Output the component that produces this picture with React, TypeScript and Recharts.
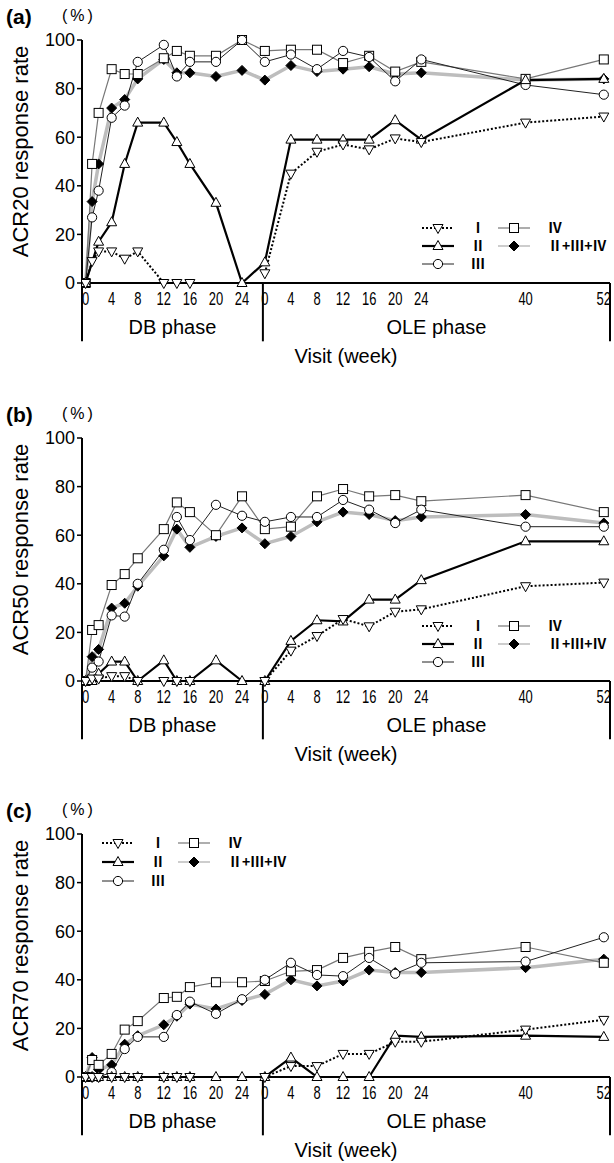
import React from "react"
import { LineChart, Line, XAxis, YAxis, ReferenceLine, Legend } from "recharts"

// visit weeks; OLE weeks are drawn after DB week 24 with a gap on the axis
const dbWeeks = [0, 1, 2, 4, 6, 8, 12, 14, 16, 20, 24]
const oleWeeks = [0, 4, 8, 12, 16, 20, 24, 40, 52]
const dbTicks = [0, 4, 8, 12, 16, 20, 24]
const oleTicks = [0, 4, 8, 12, 16, 20, 24, 40, 52]
const yTicks = [0, 20, 40, 60, 80, 100]

// values: 11 DB visits then 9 OLE visits
const acr20I = [0, 9, 13, 13, 10, 13, 0, 0, 0, null, null, 4, 45, 54, 57, 55, 59.5, 58, 66, 68.5]
const acr20II = [0, null, 17, 25, 49, 66, 66, 58, 49, 33, 0, 8.5, 59, 59, 59, 59, 67, 59, 83.5, 84]
const acr20III = [0, 27, 38, 68, 73, 91, 98, 85, 91, 91, 100, 91, 94, 88, 95.5, 93, 83, 92, 81.5, 77.5]
const acr20IV = [0, 49, 70, 88, 86, 86, 92.5, 95.5, 93.5, 93.5, 100, 95.5, 96, 96, 90.5, 93.5, 87, 91, 84, 92]
const acr20All = [0, 33.5, 49, 72, 75.5, 84, 92, 86.5, 86.5, 85, 87.5, 83.5, 89.5, 87, 88, 89, 86, 86.5, 83.5, 84]

const acr50I = [0, 1, 1, 2, 2, 0, 0, 0, 0, null, null, 0, 12.5, 18.5, 25.5, 22.5, 28.5, 29.5, 39, 40.5]
const acr50II = [0, 0, 3, 8, 8, 0, 8.5, 0, 0, 8.5, 0, 0, 16.5, 25, 24.5, 33.5, 33.5, 41.5, 57.5, 57.5]
const acr50III = [0, 5.5, 8, 27, 26.5, 40, 54, 67.5, 58, 72.5, 68, 65.5, 67.5, 67.5, 74.5, 70.5, 65, 70.5, 63.5, 63.5]
const acr50IV = [0, 21, 23, 39.5, 44, 50.5, 62.5, 73.5, 69.5, 60, 76, 62.5, 63.5, 76, 79, 76, 76.5, 74, 76.5, 69.5]
const acr50All = [0, 10, 13, 30, 32, 39, 51.5, 62.5, 55, 59.5, 63, 56.5, 59.5, 65.5, 69.5, 68.5, 66, 67.5, 68.5, 65]

const acr70I = [0, 0, 0, 0, 0, 0, 0, 0, 0, null, null, 0, 4.5, 4.5, 9.5, 9.5, 14.5, 14.5, 19.5, 23.5]
const acr70II = [0, 0, 0, 0, 0, 0, 0, 0, 0, 0, 0, 0, 8, 0, 0, 0, 17, 16.5, 17, 16.5]
const acr70III = [0, 0, 0, 2, 11.5, 16.5, 16.5, 25.5, 31, 26, 32, 40, 47, 42, 41.5, 49, 42.5, 47, 47.5, 57.5]
const acr70IV = [0, 7, 5, 9.5, 19.5, 23, 32.5, 33, 37, 39, 39, 39.5, 43.5, 44, 49, 51.5, 53.5, 48.5, 53.5, 47]
const acr70All = [0, 8, 3, 5, 13.5, 17, 21.5, 25, 30, 28, 31.5, 34, 40, 37.5, 39.5, 44, 43, 43, 45, 48.5]

const OLE_SHIFT = 27.5
const DIVIDER = 27.2
const X_MIN = -0.55
const X_MAX = 80.45
const FONT = "'Liberation Sans', Arial, sans-serif"

const xs = [...dbWeeks, ...oleWeeks.map((w) => w + OLE_SHIFT)]
const xTicks = [...dbTicks, ...oleTicks.map((w) => w + OLE_SHIFT)]

function buildRows(I: any[], II: any[], III: any[], IV: any[], all: any[]) {
  return xs.map((x, i) => ({ x, I: I[i], II: II[i], III: III[i], IV: IV[i], all: all[i] }))
}

type Shape = "down" | "up" | "circle" | "square" | "diamond"

function drawShape(shape: Shape, cx: number, cy: number, k?: string) {
  const s = { stroke: "#000", strokeWidth: 1, fill: "#fff" }
  if (shape === "square") return <rect key={k} x={cx - 4.5} y={cy - 4.5} width={9} height={9} {...s} />
  if (shape === "circle") return <circle key={k} cx={cx} cy={cy} r={4.6} {...s} />
  if (shape === "up")
    return <polygon key={k} points={`${cx},${cy - 5.5} ${cx - 5},${cy + 3.5} ${cx + 5},${cy + 3.5}`} {...s} />
  if (shape === "down")
    return <polygon key={k} points={`${cx},${cy + 5.5} ${cx - 5},${cy - 3.5} ${cx + 5},${cy - 3.5}`} {...s} />
  return <polygon key={k} points={`${cx},${cy - 5} ${cx + 5},${cy} ${cx},${cy + 5} ${cx - 5},${cy}`} fill="#000" stroke="#000" />
}

function marker(shape: Shape) {
  return (p: any) => {
    const k = `${shape}-${p.index}`
    if (p.cx == null || p.cy == null || p.value == null || Number.isNaN(p.cy)) return <g key={k} />
    return drawShape(shape, p.cx, p.cy, k)
  }
}

const seriesStyle = {
  all: { stroke: "#bdbdbd", strokeWidth: 3.5, dash: undefined, shape: "diamond" as Shape, join: true },
  IV: { stroke: "#777", strokeWidth: 1.2, dash: undefined, shape: "square" as Shape, join: true },
  III: { stroke: "#222", strokeWidth: 1, dash: undefined, shape: "circle" as Shape, join: true },
  II: { stroke: "#000", strokeWidth: 2.2, dash: undefined, shape: "up" as Shape, join: true },
  I: { stroke: "#000", strokeWidth: 2, dash: "2 2", shape: "down" as Shape, join: false },
}

function WeekTick(props: any) {
  const { x, y, payload } = props
  const v = payload.value
  const label = v >= OLE_SHIFT ? Math.round(v - OLE_SHIFT) : v
  return (
    <g transform={`translate(${x},${y + 22}) scale(0.72,1)`}>
      <text textAnchor="middle" fontSize={18} fontFamily={FONT} fill="#000">
        {label}
      </text>
    </g>
  )
}

const PAD = 8

function LegendBox({ gap }: { gap: number }) {
  const sample = (key: keyof typeof seriesStyle, x0: number, y: number) => {
    const st = seriesStyle[key]
    return (
      <g>
        <line x1={x0} x2={x0 + 32} y1={y} y2={y} stroke={st.stroke} strokeWidth={key === "all" ? 1.5 : st.strokeWidth} strokeDasharray={st.dash} />
        {drawShape(st.shape, x0 + 16, y)}
      </g>
    )
  }
  const txt = { fontFamily: "'Noto Sans CJK JP', 'DejaVu Serif', serif", fontSize: 14, fontWeight: 700, fill: "#000" }
  const r = [PAD + 9, PAD + 9 + gap, PAD + 9 + gap * 2]
  return (
    <svg width={210} height={r[2] + 16} style={{ display: "block", overflow: "visible" }}>
      {sample("I", 4, r[0])}
      {sample("II", 4, r[1])}
      {sample("III", 4, r[2])}
      {sample("IV", 80, r[0])}
      {sample("all", 80, r[1])}
      <text x={60} y={r[0] + 5} textAnchor="middle" {...txt}>Ⅰ</text>
      <text x={60} y={r[1] + 5} textAnchor="middle" {...txt}>Ⅱ</text>
      <text x={60} y={r[2] + 5} textAnchor="middle" {...txt}>Ⅲ</text>
      <text x={130} y={r[0] + 5} {...txt}>Ⅳ</text>
      <text x={130} y={r[1] + 5} {...txt}>Ⅱ+Ⅲ+Ⅳ</text>
    </svg>
  )
}

const W = 614
const H = 369
const PLOT_TOP = 40
const PLOT_BOTTOM = 283
const PLOT_LEFT = 82
const PLOT_RIGHT = 610
const px = (v: number) => PLOT_LEFT + ((v - X_MIN) * (PLOT_RIGHT - PLOT_LEFT)) / (X_MAX - X_MIN)

function Panel(props: {
  top: number
  tag: string
  yLabel: string
  rows: any[]
  legendLeft: number
  legendTop: number
  gap: number
}) {
  const { top, tag, yLabel, rows, legendLeft, legendTop, gap } = props
  const order: (keyof typeof seriesStyle)[] = ["all", "IV", "III", "II", "I"]
  const bracketEnd = -24
  return (
    <div style={{ position: "absolute", left: 0, top, width: W, height: H }}>
      <LineChart width={W} height={H} data={rows} margin={{ top: PLOT_TOP, right: W - PLOT_RIGHT, bottom: H - PLOT_BOTTOM - 30, left: 0 }}>
        <XAxis
          type="number"
          dataKey="x"
          domain={[X_MIN, X_MAX]}
          ticks={xTicks}
          interval={0}
          allowDataOverflow
          tickLine={false}
          tickSize={0}
          tickMargin={0}
          height={30}
          axisLine={{ stroke: "#000", strokeWidth: 2 }}
          tick={<WeekTick />}
        />
        <YAxis
          type="number"
          domain={[0, 100]}
          ticks={yTicks}
          interval={0}
          width={PLOT_LEFT}
          tickSize={5}
          tickMargin={2}
          axisLine={{ stroke: "#000", strokeWidth: 2 }}
          tickLine={{ stroke: "#000", strokeWidth: 1.5 }}
          tick={{ fontSize: 18, fill: "#000", fontFamily: FONT }}
        />
        <ReferenceLine segment={[{ x: X_MIN, y: 0 }, { x: X_MIN, y: bracketEnd }]} stroke="#000" strokeWidth={2} ifOverflow="visible" />
        <ReferenceLine segment={[{ x: DIVIDER, y: 0 }, { x: DIVIDER, y: bracketEnd }]} stroke="#000" strokeWidth={2} ifOverflow="visible" />
        <ReferenceLine segment={[{ x: X_MAX, y: 0 }, { x: X_MAX, y: bracketEnd }]} stroke="#000" strokeWidth={2} ifOverflow="visible" />
        {order.map((key) => {
          const st = seriesStyle[key]
          return (
            <Line
              key={key}
              type="linear"
              dataKey={key}
              stroke={st.stroke}
              strokeWidth={st.strokeWidth}
              strokeDasharray={st.dash}
              dot={marker(st.shape)}
              activeDot={false}
              connectNulls={st.join}
              isAnimationActive={false}
            />
          )
        })}
        <Legend
          layout="horizontal"
          verticalAlign="middle"
          align="center"
          content={() => <LegendBox gap={gap} />}
          wrapperStyle={{ position: "absolute", left: legendLeft, top: legendTop - PAD, right: "auto", bottom: "auto", width: 210, height: 9 + gap * 2 + 16 + PAD, overflow: "visible" }}
        />
      </LineChart>
      <svg width={W} height={H} style={{ position: "absolute", left: 0, top: 0, pointerEvents: "none" }}>
        <text x={6} y={24} fontFamily={FONT} fontWeight={700} fontSize={21} fill="#000">{tag}</text>
        <text x={62} y={21} fontFamily={FONT} fontSize={16} letterSpacing={3} fill="#000">(%)</text>
        <text transform={`translate(28, ${(PLOT_TOP + PLOT_BOTTOM) / 2 - 10}) rotate(-90)`} textAnchor="middle" fontFamily={FONT} fontSize={22} fill="#000">
          {yLabel}
        </text>
        <text x={(px(X_MIN) + px(DIVIDER)) / 2} y={PLOT_BOTTOM + 51} textAnchor="middle" fontFamily={FONT} fontSize={20} fill="#000">DB phase</text>
        <text x={(px(DIVIDER) + px(X_MAX)) / 2} y={PLOT_BOTTOM + 51} textAnchor="middle" fontFamily={FONT} fontSize={20} fill="#000">OLE phase</text>
        <text x={(PLOT_LEFT + PLOT_RIGHT) / 2} y={PLOT_BOTTOM + 80} textAnchor="middle" fontFamily={FONT} fontSize={20} fill="#000">Visit (week)</text>
      </svg>
    </div>
  )
}

export default function App() {
  return (
    <div style={{ position: "absolute", left: 0, top: 0, width: W, height: 1163, overflow: "hidden", background: "#fff" }}>
      <Panel top={0} tag="(a)" yLabel="ACR20 response rate" rows={buildRows(acr20I, acr20II, acr20III, acr20IV, acr20All)} legendLeft={418} legendTop={219} gap={18} />
      <Panel top={398} tag="(b)" yLabel="ACR50 response rate" rows={buildRows(acr50I, acr50II, acr50III, acr50IV, acr50All)} legendLeft={418} legendTop={219} gap={18} />
      <Panel top={794} tag="(c)" yLabel="ACR70 response rate" rows={buildRows(acr70I, acr70II, acr70III, acr70IV, acr70All)} legendLeft={98} legendTop={40} gap={19} />
    </div>
  )
}
